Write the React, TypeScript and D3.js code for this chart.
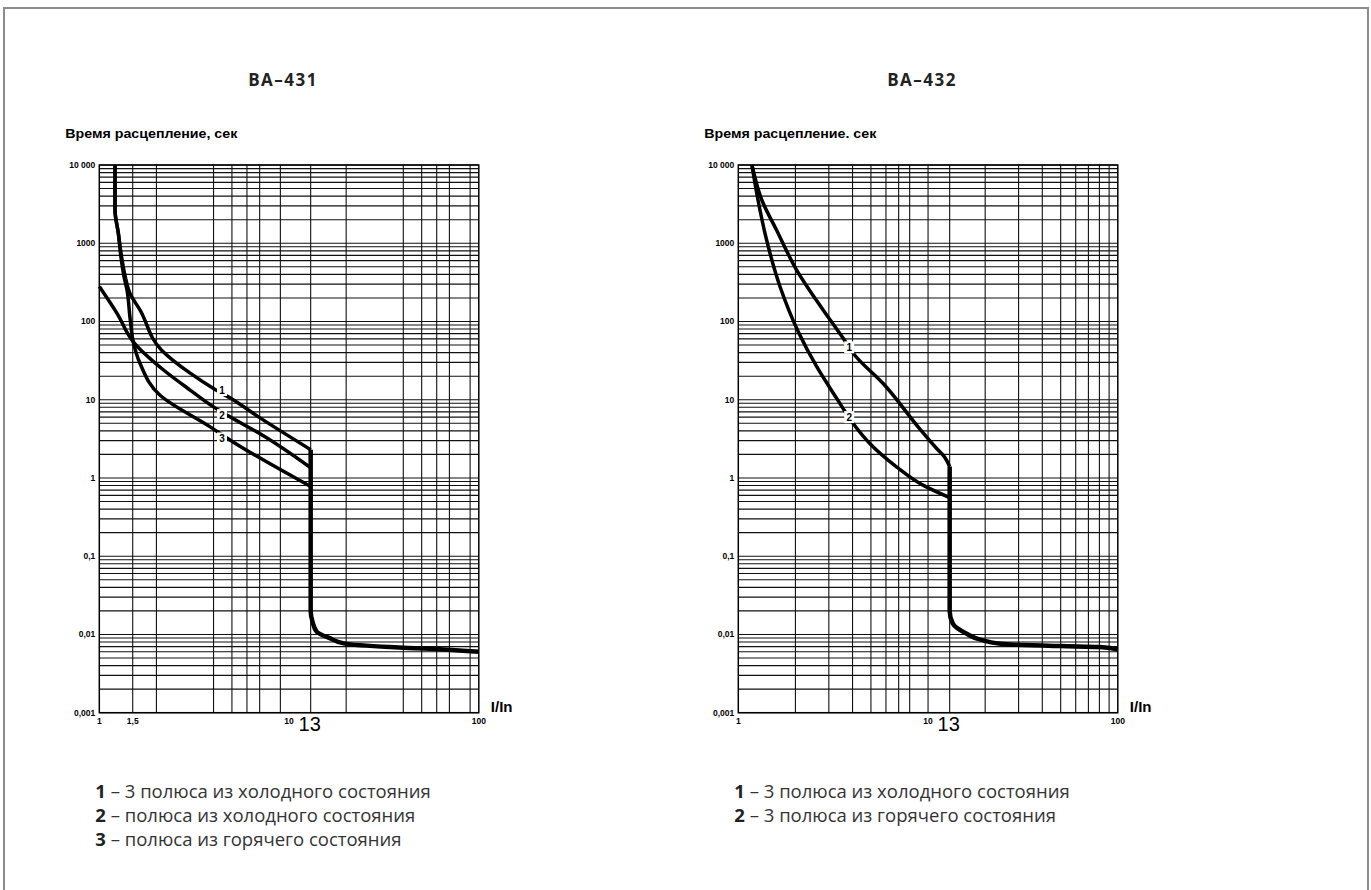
import React from 'react';
import * as d3 from 'd3';

type Pt = [number, number];

const yTickValues = [10000, 1000, 100, 10, 1, 0.1, 0.01, 0.001];
const yTickLabels = ['10 000', '1000', '100', '10', '1', '0,1', '0,01', '0,001'];

// ВА-431
const gridX431 = [1.5, 2, 4, 5, 6, 7, 9, 13, 20, 40, 50, 60, 70, 90];
const xTicks431 = [1, 1.5, 10, 100];
const xTickLabels431 = ['1', '1,5', '10', '100'];
const curve431a: Pt[] = [
  [1.21, 10000], [1.21, 2660], [1.26, 1340], [1.31, 673], [1.37, 373], [1.45, 229],
  [1.64, 140], [2.13, 43], [3.0, 22], [4.0, 13.9], [4.9, 10.5], [7.0, 5.9], [13, 2.3],
];
const curve431b: Pt[] = [
  [1.0, 280], [1.24, 127], [1.51, 55], [2.18, 24], [3.01, 13.3], [4.0, 8.1],
  [4.9, 6.0], [7.0, 3.7], [13, 1.35],
];
const curve431c: Pt[] = [
  [1.21, 10000], [1.21, 2660], [1.26, 1340], [1.3, 673], [1.35, 373], [1.4, 251],
  [1.45, 115], [1.51, 55], [1.64, 29], [2.09, 11.4], [3.84, 4.5], [4.9, 3.04], [13, 0.78],
];
const tail431: Pt[] = [
  [13, 2.3], [13, 0.02], [13.3, 0.0145], [14, 0.0108], [16.5, 0.0089], [19.4, 0.0077],
  [34, 0.0069], [51, 0.0066], [100, 0.006],
];
const labels431 = [
  { text: '1', x: 4.43, t: 13.3 },
  { text: '2', x: 4.43, t: 6.35 },
  { text: '3', x: 4.43, t: 3.2 },
];

// ВА-432
const gridX432 = [2, 3, 4, 5, 6, 7, 8, 10, 13, 20, 30, 40, 50, 60, 70, 80, 90];
const xTicks432 = [1, 10, 100];
const xTickLabels432 = ['1', '10', '100'];
const curve432a: Pt[] = [
  [1.18, 10000], [1.33, 3570], [1.59, 1475], [2.03, 454], [2.8, 140], [3.57, 61],
  [4.11, 37], [5.8, 16.1], [8.86, 4.5], [11.1, 2.38], [12.2, 1.86], [13, 1.4],
];
const curve432b: Pt[] = [
  [1.18, 10000], [1.27, 3570], [1.41, 1100], [1.66, 278], [2.07, 74], [2.59, 26.4],
  [3.3, 10.4], [4.03, 4.97], [4.93, 2.76], [6.82, 1.39], [9.4, 0.81], [13, 0.56],
];
const tail432: Pt[] = [
  [13, 1.4], [13, 0.02], [13.5, 0.0138], [15.9, 0.0103], [19.5, 0.0084], [25.9, 0.0075],
  [50, 0.0071], [80, 0.0069], [100, 0.0064],
];
const labels432 = [
  { text: '1', x: 3.84, t: 46.7 },
  { text: '2', x: 3.84, t: 6.0 },
];

const legend431 = [
  { n: '1', text: '3 полюса из холодного состояния' },
  { n: '2', text: 'полюса из холодного состояния' },
  { n: '3', text: 'полюса из горячего состояния' },
];
const legend432 = [
  { n: '1', text: '3 полюса из холодного состояния' },
  { n: '2', text: '3 полюса из горячего состояния' },
];

const TOP = 165;
const BOTTOM = 712.7;
const PW = 379.5;
const small = { fontFamily: 'Liberation Sans, Arial, sans-serif', fontWeight: 700, fontSize: 8.5 };

interface ChartProps {
  ox: number;
  title: string;
  yTitle: string;
  gridX: number[];
  xTicks: number[];
  xTickLabels: string[];
  curves: Pt[][];
  tail: Pt[];
  labels: { text: string; x: number; t: number }[];
  legend: { n: string; text: string }[];
}

function Chart(p: ChartProps) {
  const x = d3.scaleLog().domain([1, 100]).range([p.ox, p.ox + PW]);
  const y = d3.scaleLog().domain([0.001, 10000]).range([BOTTOM, TOP]);
  const line = d3
    .line<Pt>()
    .x((d) => x(d[0]))
    .y((d) => y(d[1]))
    .curve(d3.curveMonotoneY);
  const gridY = y.ticks();

  return (
    <g>
      <text x={p.ox + PW / 2 - 6} y={86} textAnchor="middle"
        style={{ fontFamily: 'Open Sans', fontWeight: 700, fontSize: 17, letterSpacing: 1.5 }} fill="#222">
        {p.title}
      </text>
      <text x={p.ox - 34} y={138} textLength={172} lengthAdjust="spacingAndGlyphs"
        style={{ fontFamily: 'Liberation Sans', fontWeight: 700, fontSize: 13 }}>
        {p.yTitle}
      </text>

      {gridY.map((v, i) => (
        <line key={'gy' + i} x1={p.ox} x2={p.ox + PW} y1={y(v)} y2={y(v)} stroke="#111" strokeWidth={1.1} />
      ))}
      {p.gridX.map((v, i) => (
        <line key={'gx' + i} x1={x(v)} x2={x(v)} y1={TOP} y2={BOTTOM} stroke="#111" strokeWidth={1.1} />
      ))}
      <rect x={p.ox} y={TOP} width={PW} height={BOTTOM - TOP} fill="none" stroke="#000" strokeWidth={1.5} />

      {yTickValues.map((v, i) => (
        <text key={'yl' + i} x={p.ox - 4} y={y(v)} dy="0.35em" textAnchor="end" style={small}>
          {yTickLabels[i]}
        </text>
      ))}
      {p.xTicks.map((v, i) => (
        <text key={'xl' + i} x={x(v)} y={724} textAnchor="middle" style={small}>
          {p.xTickLabels[i]}
        </text>
      ))}
      <text x={x(13) - 1} y={731} textAnchor="middle"
        style={{ fontFamily: 'Liberation Sans Narrow, Liberation Sans', fontSize: 20 }}>
        13
      </text>
      <text x={p.ox + PW + 12} y={712} style={{ fontFamily: 'Liberation Sans Narrow, Liberation Sans', fontWeight: 700, fontSize: 15 }}>
        I/In
      </text>

      {p.curves.map((c, i) => (
        <path key={'c' + i} d={line(c) || ''} fill="none" stroke="#000" strokeWidth={3.5} strokeLinejoin="round" />
      ))}
      <path d={line(p.tail) || ''} fill="none" stroke="#000" strokeWidth={4.5} strokeLinejoin="round" />

      {p.labels.map((l, i) => (
        <g key={'lb' + i}>
          <rect x={x(l.x) - 5} y={y(l.t) - 6} width={10} height={12} fill="#fff" />
          <text x={x(l.x)} y={y(l.t)} dy="0.35em" textAnchor="middle"
            style={{ fontFamily: 'Liberation Sans', fontWeight: 700, fontSize: 10 }}>
            {l.text}
          </text>
        </g>
      ))}

      {p.legend.map((l, i) => (
        <text key={'lg' + i} x={p.ox - 4} y={798 + i * 24} style={{ fontFamily: 'Open Sans', fontSize: 18.5 }} fill="#333">
          <tspan fontWeight={700} fill="#222">{l.n}</tspan>
          <tspan> – {l.text}</tspan>
        </text>
      ))}
    </g>
  );
}

export default function App() {
  return (
    <svg width={1371} height={890} style={{ position: 'absolute', left: 0, top: 0, background: '#fff' }}>
      <rect x={4} y={8} width={1364} height={900} fill="#fff" stroke="#8c8c8c" strokeWidth={2} />
      <Chart ox={99.3} title="ВА–431" yTitle="Время расцепление, сек" gridX={gridX431}
        xTicks={xTicks431} xTickLabels={xTickLabels431}
        curves={[curve431a, curve431b, curve431c]} tail={tail431} labels={labels431} legend={legend431} />
      <Chart ox={738.3} title="ВА–432" yTitle="Время расцепление. сек" gridX={gridX432}
        xTicks={xTicks432} xTickLabels={xTickLabels432}
        curves={[curve432a, curve432b]} tail={tail432} labels={labels432} legend={legend432} />
    </svg>
  );
}
